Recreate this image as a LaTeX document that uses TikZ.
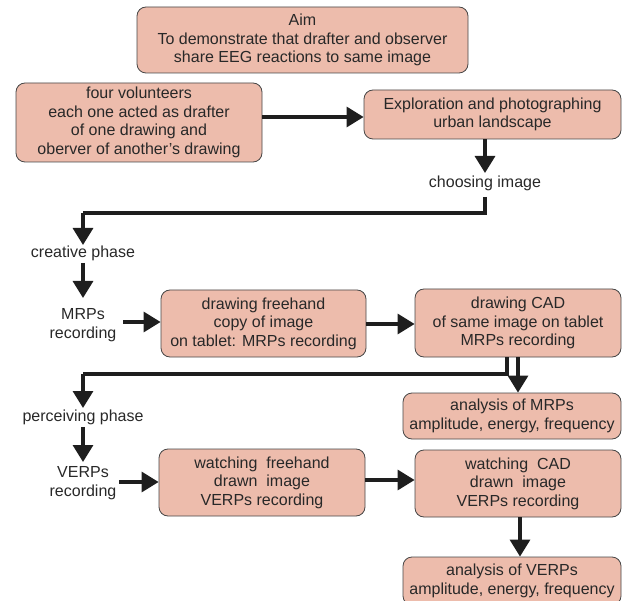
\documentclass[tikz,border=0pt]{standalone}
\usepackage{fontspec}
\setmainfont{Liberation Sans}
\usetikzlibrary{arrows.meta}
\definecolor{boxfill}{RGB}{237,188,172}
\definecolor{boxline}{RGB}{70,70,70}
\definecolor{txt}{RGB}{40,40,40}
\definecolor{arr}{RGB}{30,30,30}
\begin{document}
\begin{tikzpicture}[x=1pt,y=-1pt,
  box/.style={draw=boxline,fill=boxfill,line width=0.8pt,rounded corners=9pt,align=center,inner sep=0pt,text=txt,font=\fontsize{16}{18.5}\selectfont},
  lbl/.style={align=center,inner sep=0pt,text=txt,font=\fontsize{16}{18.5}\selectfont},
  conn/.style={draw=arr,line width=3.2pt,-{Triangle[width=20pt,length=17pt]}},
  plain/.style={draw=arr,line width=3.2pt}]
\useasboundingbox (0,0) rectangle (623,601);
\clip (0,0) rectangle (623,601);
\node[box,minimum width=331pt,minimum height=66pt] (aim) at (302.5,40) {Aim\\To demonstrate that drafter and observer\\share EEG reactions to same image};
\node[box,minimum width=246pt,minimum height=79pt] (vol) at (139,122.5) {four volunteers\\each one acted as drafter\\of one drawing and\\oberver of another's drawing};
\node[box,minimum width=257pt,minimum height=49pt] (expl) at (492.5,114.5) {Exploration and photographing\\urban landscape};
\node[lbl] (choose) at (485,183) {choosing image};
\node[lbl] (creative) at (83,253) {creative phase};
\node[lbl] (mrps) at (83,325) {MRPs\\recording};
\node[box,minimum width=205pt,minimum height=67pt] (free) at (263.5,323.5) {drawing freehand\\copy of image\\on tablet: MRPs recording};
\node[box,minimum width=206pt,minimum height=68pt] (cad) at (518,323) {drawing CAD\\of same image on tablet\\MRPs recording};
\node[box,minimum width=218pt,minimum height=46pt] (amrp) at (512,416) {analysis of MRPs\\amplitude, energy, frequency};
\node[lbl] (perc) at (83,417) {perceiving phase};
\node[lbl] (verps) at (83,483) {VERPs\\recording};
\node[box,minimum width=206pt,minimum height=67pt] (wfree) at (262,482.5) {watching\ \ freehand\\drawn\ \ image\\VERPs recording};
\node[box,minimum width=206pt,minimum height=67pt] (wcad) at (518,483.5) {watching\ \ CAD\\drawn\ \ image\\VERPs recording};
\node[box,minimum width=218pt,minimum height=48pt] (averp) at (512,581) {analysis of VERPs\\amplitude, energy, frequency};
\coordinate (j1) at (83,213);
\coordinate (j2) at (83,374);
\draw[conn] (vol.east |- 0,117) -- (expl.west |- 0,117);
\draw[conn] (choose.center |- expl.south) -- ([yshift=10pt]choose.center);
\draw[plain] ([yshift=-14pt]choose.center) |- (j1);
\draw[conn] (j1) -- ([yshift=8pt]creative.center);
\draw[conn] ([yshift=-10pt]creative.center) -- ([yshift=27pt]mrps.center);
\draw[conn] ([xshift=40pt,yshift=3pt]mrps.center) -- (free.west |- 0,322);
\draw[conn] (free.east |- 0,324) -- (cad.west |- 0,324);
\draw[plain] ([xshift=-11pt]cad.south) |- (j2);
\draw[conn] (j2) -- ([yshift=9pt]perc.center);
\draw[conn] (cad.south) -- (cad.south |- amrp.north);
\draw[conn] ([yshift=-10pt]perc.center) -- ([yshift=21pt]verps.center);
\draw[conn] ([xshift=36pt,yshift=1pt]verps.center) -- (wfree.west |- 0,482);
\draw[conn] (wfree.east |- 0,480) -- (wcad.west |- 0,480);
\draw[conn] ([xshift=2pt]wcad.south) -- ([xshift=2pt]wcad.south |- averp.north);
\end{tikzpicture}
\end{document}
